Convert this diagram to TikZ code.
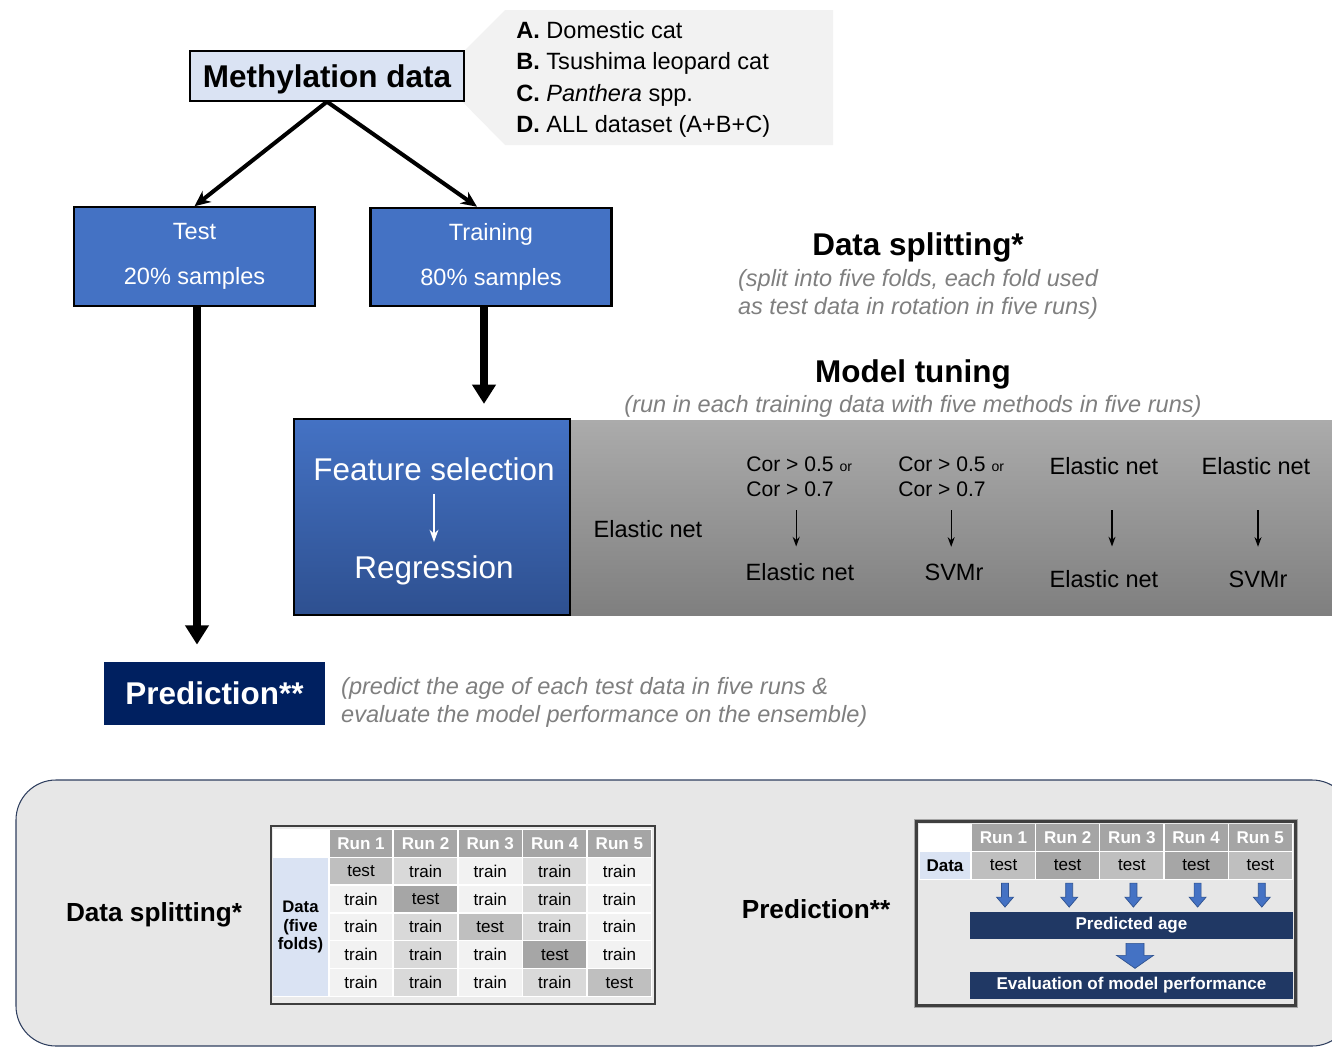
\documentclass[tikz,border=0pt]{standalone}
\usepackage{fontspec}
\setmainfont{Liberation Sans}
\usetikzlibrary{positioning, arrows.meta}

\definecolor{boxblue}{HTML}{4472C4}
\definecolor{boxdeep}{HTML}{2E5090}
\definecolor{paleblue}{HTML}{DAE3F3}
\definecolor{navy}{HTML}{002060}
\definecolor{barnavy}{HTML}{203864}
\definecolor{notegray}{HTML}{7F7F7F}
\definecolor{listgray}{HTML}{F2F2F2}
\definecolor{panelgray}{HTML}{E7E7E7}
\definecolor{panelline}{HTML}{2F3F5F}
\definecolor{bandtop}{HTML}{ABABAB}
\definecolor{bandbot}{HTML}{7F7F7F}
\definecolor{hdrgray}{HTML}{A5A5A5}
\definecolor{testlight}{HTML}{BFBFBF}
\definecolor{testdark}{HTML}{A6A6A6}
\definecolor{trainlight}{HTML}{F2F2F2}
\definecolor{traindark}{HTML}{D9D9D9}
\definecolor{framegray}{HTML}{3F3F3F}
\definecolor{tablegray}{HTML}{EBEBEB}
\definecolor{arrowedge}{HTML}{2F528F}

\newcommand{\szbig}{\fontsize{17.9}{21.5}\selectfont}
\newcommand{\szmid}{\fontsize{13.4}{16}\selectfont}
\newcommand{\szcor}{\fontsize{12}{14.2}\selectfont}
\newcommand{\szsub}{\fontsize{14.9}{18}\selectfont}
\newcommand{\szcell}{\fontsize{9.7}{10.2}\selectfont}

\tikzset{
    databox/.style={draw=black, line width=0.8pt, fill=paleblue, font=\szbig\bfseries, text depth=0pt, minimum width=5.48cm, minimum height=1cm}, % the input data
    bluebox/.style={draw=black, line width=1.2pt, fill=boxblue, text=white, font=\fontsize{13.4}{25.6}\selectfont, align=center, minimum width=4.82cm, minimum height=1.97cm}, % test / training split
    heading/.style={font=\szbig\bfseries},
    note/.style={font=\fontsize{13.4}{15.9}\selectfont\itshape, text=notegray, align=center}, % grey remarks in brackets
    bandtext/.style={font=\szmid, inner sep=0pt},
    splitarrow/.style={line width=2.3pt, -{Stealth[length=9pt,width=8pt]}},
    bigarrow/.style={line width=4pt, -{Triangle[length=11pt,width=13pt]}},
    thinarrow/.style={line width=0.7pt, -{Stealth[length=5.5pt,width=4pt]}},
    hdrcell/.style={fill=hdrgray, text=white, font=\szcell\bfseries, minimum width=1.26cm, minimum height=0.53cm, inner sep=0pt}, % table header
    cell/.style={font=\szcell, minimum width=1.26cm, minimum height=0.53cm, inner sep=0pt},
    datacell/.style={fill=paleblue, font=\szcell\bfseries, align=center, inner sep=0pt},
    barbox/.style={fill=barnavy, text=white, font=\szcell\bfseries, minimum width=6.46cm, minimum height=0.54cm, inner sep=0pt},
    blockarrow/.style={fill=boxblue, draw=arrowedge, line width=0.4pt},
}

\begin{document}
\begin{tikzpicture}[x=0.02cm, y=-0.02cm]
\useasboundingbox (0,0) rectangle (1332,1048);

% species list behind the data box
\fill[listgray] (505,10) -- (833,10) -- (833,145) -- (505,145) -- (438,77) -- cycle;
\node[anchor=north west, align=left, font=\fontsize{13.4}{17.9}\selectfont, inner sep=0pt] (species) at (516,21)
    {\textbf{A.} Domestic cat\\\textbf{B.} Tsushima leopard cat\\\textbf{C.} \textit{Panthera} spp.\\\textbf{D.} ALL dataset (A+B+C)};

\node[databox] (meth) at (327,76) {Methylation data};
\node[bluebox] (test) at (194.5,256.5) {Test\\20\% samples};
\node[bluebox] (train) at (491,257) {Training\\80\% samples};
\draw[splitarrow] (meth.south) -- (test.north);
\draw[splitarrow] (meth.south) -- ([xshift=-0.28cm]train.north);

% data splitting and model tuning
\node[heading] (splithead) at (918,247) {Data splitting*};
\node[note] (splitnote) at (918,294) {(split into five folds, each fold used\\as test data in rotation in five runs)};
\node[heading] (tunehead) at (913,374) {Model tuning};
\node[note] (tunenote) at (913,406) {(run in each training data with five methods in five runs)};

\shade[top color=bandtop, bottom color=bandbot] (570,420) rectangle (1340,615);
\node[draw=black, line width=1.2pt, top color=boxblue, bottom color=boxdeep, minimum width=5.52cm, minimum height=3.92cm] (feat) at (432,517) {};
\node[text=white, font=\szbig] (fsel) at (434,469) {Feature selection};
\node[text=white, font=\szbig] (freg) at (434,570) {Regression};
\draw[white, line width=1.2pt, -{Stealth[length=7pt,width=5pt]}, shorten <=4pt, shorten >=4pt] (fsel) -- (freg);

\node[bandtext] (m1) at (648,529) {Elastic net};
\node[bandtext, font=\szcor, align=left, anchor=west] (m2a) at (746,476.5) {Cor > 0.5 {\fontsize{8}{8}\selectfont or}\\Cor > 0.7};
\node[bandtext] (m2b) at (800,572) {Elastic net};
\node[bandtext, font=\szcor, align=left, anchor=west] (m3a) at (898,476.5) {Cor > 0.5 {\fontsize{8}{8}\selectfont or}\\Cor > 0.7};
\node[bandtext] (m3b) at (954,572) {SVMr};
\node[bandtext] (m4a) at (1104,466) {Elastic net};
\node[bandtext] (m4b) at (1104,579) {Elastic net};
\node[bandtext] (m5a) at (1256,466) {Elastic net};
\node[bandtext] (m5b) at (1258,579) {SVMr};
\draw[thinarrow, shorten <=7.7pt, shorten >=9.4pt] ([xshift=-0.06cm]m2a.south) -- ([xshift=-0.06cm]m2a.south |- m2b.north);
\draw[thinarrow, shorten <=7.7pt, shorten >=9.4pt] (m3a.south) -- (m3a.south |- m3b.north);
\draw[thinarrow, shorten <=20.2pt, shorten >=13.4pt] ([xshift=0.16cm]m4a.south) -- ([xshift=0.16cm]m4a.south |- m4b.north);
\draw[thinarrow, shorten <=20.2pt, shorten >=13.4pt] ([xshift=0.04cm]m5a.south) -- ([xshift=0.04cm]m5a.south |- m5b.north);

% prediction
\node[fill=navy, text=white, font=\szbig\bfseries, minimum width=4.42cm, minimum height=1.26cm] (pred) at (214.5,693.5) {Prediction**};
\node[note, align=left, anchor=west] (prednote) at (335,702) {(predict the age of each test data in five runs \&\\evaluate the model performance on the ensemble)};
\draw[bigarrow, shorten >=9.7pt] ([xshift=0.05cm]test.south) -- ([xshift=0.05cm]test.south |- pred.north);
\draw[bigarrow, shorten >=8pt] ([xshift=-0.14cm]train.south) -- ([xshift=-0.14cm]train.south |- feat.north);

% bottom panel
\draw[draw=panelline, fill=panelgray, line width=0.6pt, rounded corners=0.8cm] (16,780) rectangle (1352,1046);
\node[font=\szsub\bfseries] (splitlbl) at (154,915) {Data splitting*};
\node[font=\szsub\bfseries] (predlbl) at (816,909) {Prediction**};

% five folds table
\draw[line width=1.2pt, draw=framegray, fill=tablegray] (271,826) rectangle (655,1004);
\fill[white] (273,829) rectangle (652,997);
\node[datacell, font=\fontsize{9.5}{10.6}\selectfont\bfseries, minimum width=1.1cm, minimum height=2.76cm] (Ldata) at (300.5,927) {Data\\(five\\folds)};
\foreach \c in {1,...,5}{
    \node[hdrcell] (Lh\c) at ({361+64.6*(\c-1)},843.5) {Run \c};
}
\foreach \r in {1,...,5}{
    \foreach \c in {1,...,5}{
        \ifnum\r=\c\relax
            \ifodd\c\relax\def\cellcol{testlight}\else\def\cellcol{testdark}\fi
            \def\celltxt{test}
        \else
            \ifodd\c\relax\def\cellcol{trainlight}\else\def\cellcol{traindark}\fi
            \def\celltxt{train}
        \fi
        \node[cell, fill=\cellcol] (L\r\c) at ({361+64.6*(\c-1)},{871+27.9*(\r-1)}) {\celltxt};
    }
}

% prediction table
\draw[line width=0.6pt, draw=gray!70] (914.5,819.5) rectangle (1297.5,1007.5);
\draw[line width=1.2pt, draw=framegray] (916.5,821.5) rectangle (1295.5,1005.5);
\fill[white] (919,824) rectangle (1293,880);
\node[datacell, minimum width=1cm, minimum height=0.54cm] (Rdata) at (945,865.5) {Data};
\foreach \c in {1,...,5}{
    \ifodd\c\relax\def\cellcol{testlight}\else\def\cellcol{testdark}\fi
    \node[hdrcell] (Rh\c) at ({1003.5+64.2*(\c-1)},837.5) {Run \c};
    \node[cell, fill=\cellcol] (Rt\c) at ({1003.5+64.2*(\c-1)},865.5) {test};
    \draw[blockarrow] (Rt\c.south) ++(-2,4) -- ++(7,0) -- ++(0,14) -- ++(5,0) -- ++(-8.5,10) -- ++(-8.5,-10) -- ++(5,0) -- cycle;
}
\node[barbox] (predage) at (1131.5,925.5) {Predicted age};
\draw[blockarrow] (predage.south) ++(-5.5,4) -- ++(18,0) -- ++(0,12) -- ++(9.5,0) -- ++(-18.5,13) -- ++(-18.5,-13) -- ++(9.5,0) -- cycle;
\node[barbox] (evalbox) at (1131.5,985) {Evaluation of model performance};
\end{tikzpicture}
\end{document}
